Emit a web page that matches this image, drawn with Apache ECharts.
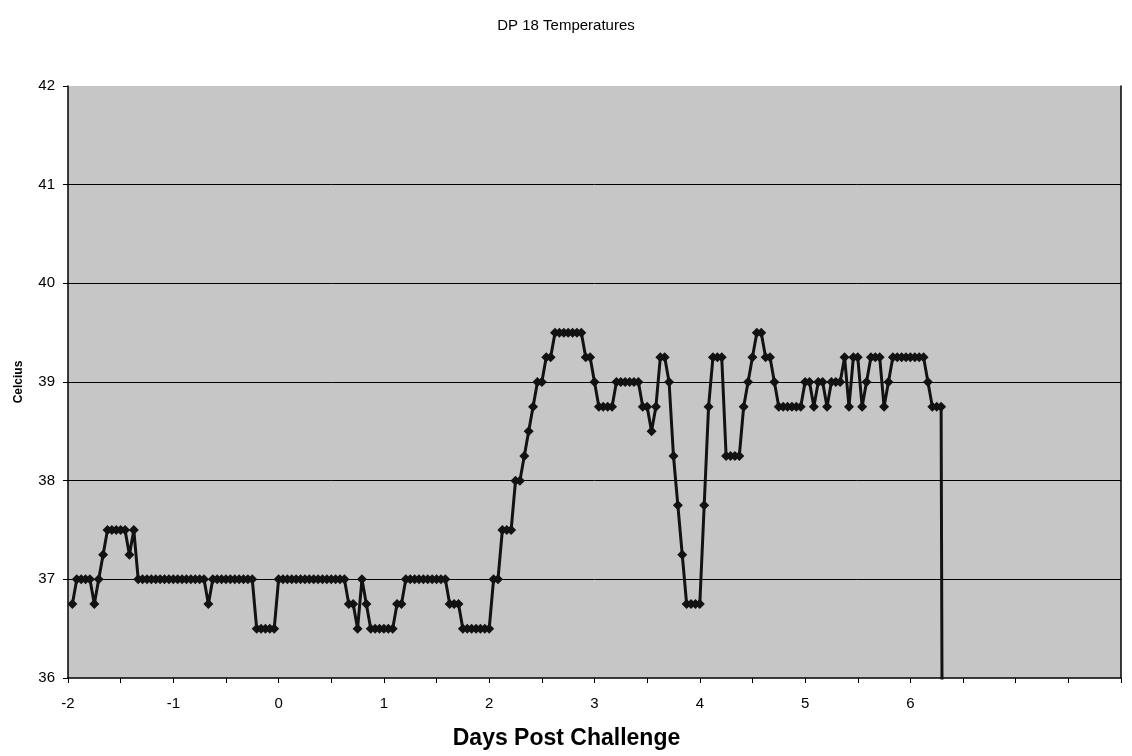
<!DOCTYPE html>
<html><head><meta charset="utf-8">
<script src="https://cdn.jsdelivr.net/npm/echarts@6/dist/echarts.min.js"></script>
<style>html,body{margin:0;padding:0;background:#fff}#c{width:1132px;height:756px}</style>
</head><body><div id="c"></div>
<script>
const chartTitle = 'DP 18 Temperatures';
const xAxisTitle = 'Days Post Challenge';
const yAxisTitle = 'Celcius';
const xTickLabels = [-2, -1, 0, 1, 2, 3, 4, 5, 6];
const yTickLabels = [36, 37, 38, 39, 40, 41, 42];
// hourly readings, first one at day -47/24
const firstReadingDay = -47 / 24;
const readingStepDays = 1 / 24;
const temperatures = [
  36.75, 37, 37, 37, 37, 36.75, 37, 37.25,
  37.5, 37.5, 37.5, 37.5, 37.5, 37.25, 37.5,
  37, 37, 37, 37, 37, 37, 37, 37, 37, 37, 37, 37, 37, 37, 37, 37,
  36.75,
  37, 37, 37, 37, 37, 37, 37, 37, 37, 37,
  36.5, 36.5, 36.5, 36.5, 36.5,
  37, 37, 37, 37, 37, 37, 37, 37, 37, 37, 37, 37, 37, 37, 37, 37,
  36.75, 36.75, 36.5, 37, 36.75,
  36.5, 36.5, 36.5, 36.5, 36.5, 36.5,
  36.75, 36.75,
  37, 37, 37, 37, 37, 37, 37, 37, 37, 37,
  36.75, 36.75, 36.75,
  36.5, 36.5, 36.5, 36.5, 36.5, 36.5, 36.5,
  37, 37, 37.5, 37.5, 37.5, 38, 38, 38.25, 38.5, 38.75, 39, 39, 39.25, 39.25,
  39.5, 39.5, 39.5, 39.5, 39.5, 39.5, 39.5,
  39.25, 39.25, 39,
  38.75, 38.75, 38.75, 38.75,
  39, 39, 39, 39, 39, 39,
  38.75, 38.75, 38.5, 38.75, 39.25, 39.25, 39,
  38.25, 37.75, 37.25,
  36.75, 36.75, 36.75, 36.75,
  37.75, 38.75, 39.25, 39.25, 39.25,
  38.25, 38.25, 38.25, 38.25,
  38.75, 39, 39.25, 39.5, 39.5, 39.25, 39.25, 39,
  38.75, 38.75, 38.75, 38.75, 38.75, 38.75,
  39, 39, 38.75, 39, 39, 38.75, 39, 39, 39,
  39.25, 38.75, 39.25, 39.25, 38.75, 39, 39.25, 39.25, 39.25, 38.75, 39,
  39.25, 39.25, 39.25, 39.25, 39.25, 39.25, 39.25, 39.25,
  39, 38.75, 38.75, 38.75,
  25
];

const seriesData = temperatures.map((t, i) => [firstReadingDay + i * readingStepDays, t]);
const font = 'Liberation Sans, Arial, sans-serif';

const chart = echarts.init(document.getElementById('c'), null, {renderer: 'canvas'});
chart.setOption({
  animation: false,
  backgroundColor: '#ffffff',
  title: {
    text: chartTitle, left: 'center', top: 13,
    textStyle: {fontFamily: font, fontSize: 15, fontWeight: 'normal', color: '#000'}
  },
  grid: {
    left: 68, right: 11, top: 86, bottom: 78,
    show: true, backgroundColor: '#c6c6c6', borderWidth: 0
  },
  xAxis: {
    type: 'value', min: -2, max: 8, interval: 0.5,
    name: xAxisTitle, nameLocation: 'middle', nameGap: 49,
    nameTextStyle: {fontFamily: font, fontSize: 23, fontWeight: 'bold', color: '#000', padding: [0, 56, 0, 0]},
    axisLine: {show: true, onZero: false, lineStyle: {color: '#000', width: 1.5}},
    axisTick: {show: true, inside: false, length: 5, lineStyle: {color: '#000', width: 1}},
    splitLine: {show: false},
    axisLabel: {
      fontFamily: font, fontSize: 15, color: '#000', margin: 18,
      showMinLabel: true, showMaxLabel: true,
      formatter: v => (xTickLabels.indexOf(v) >= 0 ? String(v) : '')
    }
  },
  yAxis: [{
    type: 'value', min: 36, max: 42, interval: 1, position: 'left',
    name: yAxisTitle, nameLocation: 'middle', nameGap: 43, nameRotate: 90,
    nameTextStyle: {fontFamily: font, fontSize: 12, fontWeight: 'bold', color: '#000'},
    axisLine: {show: true, onZero: false, lineStyle: {color: '#000', width: 1.5}},
    axisTick: {show: true, inside: false, length: 5, lineStyle: {color: '#000', width: 1}},
    splitLine: {show: true, showMinLine: false, showMaxLine: false, lineStyle: {color: '#000', width: 1}},
    axisLabel: {
      fontFamily: font, fontSize: 15, color: '#000', margin: 13,
      formatter: v => (yTickLabels.indexOf(v) >= 0 ? String(v) : '')
    }
  }, {
    type: 'value', min: 36, max: 42, interval: 1, position: 'right',
    axisLine: {show: true, onZero: false, lineStyle: {color: '#000', width: 1.5}},
    axisTick: {show: false}, axisLabel: {show: false}, splitLine: {show: false}
  }],
  series: [{
    type: 'line',
    data: seriesData,
    yAxisIndex: 0,
    symbol: 'diamond',
    symbolSize: 10,
    showSymbol: true,
    clip: true,
    itemStyle: {color: '#121212'},
    lineStyle: {color: '#121212', width: 3}
  }]
});
</script>
</body></html>
